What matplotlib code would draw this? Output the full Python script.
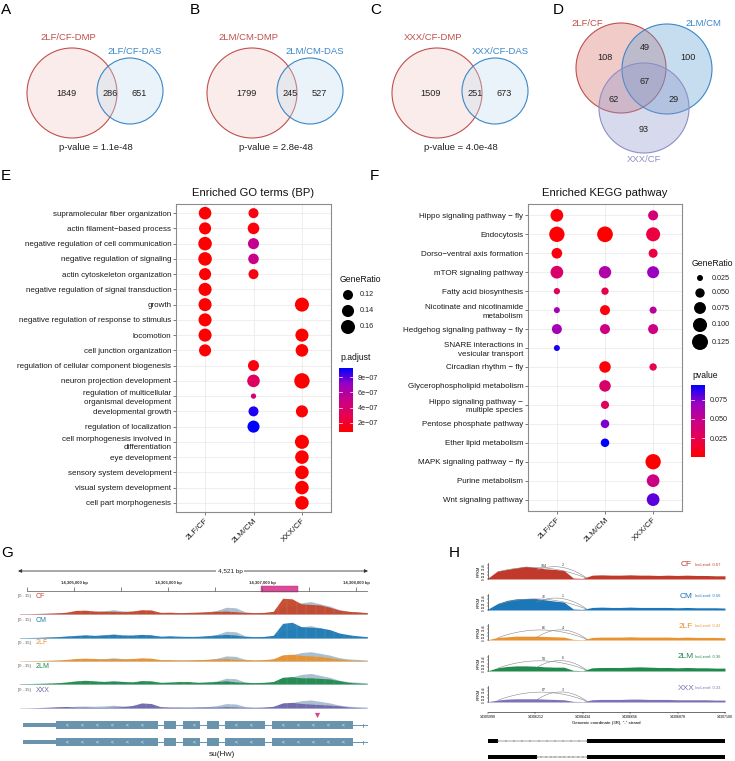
import numpy as np
import matplotlib.pyplot as plt
from matplotlib.patches import Circle, Rectangle
from matplotlib.colors import LinearSegmentedColormap, Normalize

plt.rcParams['font.family'] = ['Liberation Sans', 'DejaVu Sans']

# ---------------- data ----------------
venn_names = [('2LF/CF-DMP', '2LF/CF-DAS'), ('2LM/CM-DMP', '2LM/CM-DAS'), ('XXX/CF-DMP', 'XXX/CF-DAS')]
venn_counts = [(1849, 286, 651), (1799, 245, 527), (1509, 251, 673)]
venn_pvals = ['1.1e-48', '2.8e-48', '4.0e-48']

venn3_names = ['2LF/CF', '2LM/CM', 'XXX/CF']
# only1, only2, only3, 1&2, 1&3, 2&3, all
venn3_counts = [108, 100, 93, 49, 62, 29, 67]

groups = ['2LF/CF', '2LM/CM', 'XXX/CF']

go_terms = ['supramolecular fiber organization', 'actin filament\u2212based process',
            'negative regulation of cell communication', 'negative regulation of signaling',
            'actin cytoskeleton organization', 'negative regulation of signal transduction',
            'growth', 'negative regulation of response to stimulus', 'locomotion',
            'cell junction organization', 'regulation of cellular component biogenesis',
            'neuron projection development', 'regulation of multicellular\norganismal development',
            'developmental growth', 'regulation of localization',
            'cell morphogenesis involved in\ndifferentiation', 'eye development',
            'sensory system development', 'visual system development', 'cell part morphogenesis']
go_row = [0, 0, 1, 1, 2, 2, 3, 3, 4, 4, 5, 6, 6, 7, 8, 8, 9, 9, 10, 11, 11, 12, 13, 13, 14, 15, 16, 17, 18, 19]
go_col = [0, 1, 0, 1, 0, 1, 0, 1, 0, 1, 0, 0, 2, 0, 0, 2, 0, 2, 1, 1, 2, 1, 1, 2, 1, 2, 2, 2, 2, 2]
go_ratio = [0.145, 0.12, 0.14, 0.135, 0.155, 0.13, 0.155, 0.125, 0.14, 0.12, 0.15, 0.15, 0.16, 0.15,
            0.15, 0.15, 0.14, 0.145, 0.13, 0.145, 0.175, 0.08, 0.12, 0.14, 0.14, 0.16, 0.155, 0.155,
            0.155, 0.155]
go_padj = [0.9e-7, 1.2e-7, 0.85e-7, 1.1e-7, 0.82e-7, 5.2e-7, 0.82e-7, 5.0e-7, 0.9e-7, 1.3e-7, 0.85e-7,
           0.85e-7, 0.82e-7, 0.85e-7, 0.85e-7, 0.82e-7, 0.9e-7, 0.85e-7, 1.2e-7, 3.5e-7, 0.8e-7, 4.2e-7,
           8.8e-7, 1.0e-7, 9.2e-7, 0.82e-7, 0.82e-7, 0.82e-7, 0.82e-7, 0.82e-7]

kegg_terms = ['Hippo signaling pathway \u2212 fly', 'Endocytosis', 'Dorso\u2212ventral axis formation',
              'mTOR signaling pathway', 'Fatty acid biosynthesis', 'Nicotinate and nicotinamide\nmetabolism',
              'Hedgehog signaling pathway \u2212 fly', 'SNARE interactions in\nvesicular transport',
              'Circadian rhythm \u2212 fly', 'Glycerophospholipid metabolism',
              'Hippo signaling pathway \u2212\nmultiple species', 'Pentose phosphate pathway',
              'Ether lipid metabolism', 'MAPK signaling pathway \u2212 fly', 'Purine metabolism',
              'Wnt signaling pathway']
kegg_row = [0, 0, 1, 1, 1, 2, 2, 3, 3, 3, 4, 4, 5, 5, 5, 6, 6, 6, 7, 8, 8, 9, 10, 11, 12, 13, 14, 15]
kegg_col = [0, 2, 0, 1, 2, 0, 2, 0, 1, 2, 0, 1, 0, 1, 2, 0, 1, 2, 0, 1, 2, 1, 1, 1, 1, 2, 2, 2]
kegg_ratio = [0.084, 0.056, 0.116, 0.121, 0.099, 0.062, 0.047, 0.084, 0.08, 0.076, 0.027, 0.034,
              0.025, 0.056, 0.032, 0.056, 0.056, 0.056, 0.025, 0.071, 0.034, 0.071, 0.04, 0.043,
              0.043, 0.116, 0.084, 0.084]
kegg_p = [0.003, 0.04, 0.002, 0.001, 0.02, 0.005, 0.02, 0.035, 0.06, 0.07, 0.03, 0.025,
          0.065, 0.005, 0.055, 0.065, 0.045, 0.045, 0.09, 0.003, 0.025, 0.035, 0.03, 0.075,
          0.094, 0.0008, 0.045, 0.08]

go_size_breaks = [0.12, 0.14, 0.16]
kegg_size_breaks = [0.025, 0.05, 0.075, 0.1, 0.125]
go_p_ticks = [2e-7, 4e-7, 6e-7, 8e-7]
go_p_labels = ['2e\u221207', '4e\u221207', '6e\u221207', '8e\u221207']
kegg_p_ticks = [0.025, 0.05, 0.075]
kegg_p_labels = ['0.025', '0.050', '0.075']

# IGV tracks (panel G), coverage per 100 bp bin, range [0 - 15]
g_left, g_right = 14304404, 14308128
g_bins = np.arange(14304420, 14308200, 100)
track_names = ['CF', 'CM', '2LF', '2LM', 'XXX']
track_colors = ['#c4452b', '#1f7bb6', '#e8912e', '#1f8a4c', '#6f66aa']
cov_CF = [0.3, 0.3, 0.5, 0.7, 1.0, 1.6, 3.2, 3.4, 2.6, 2.4, 2.4, 2.0, 2.6, 3.8, 3.6, 1.4, 1.6, 1.2, 1.4,
          1.6, 2.0, 2.4, 2.6, 2.0, 1.4, 1.2, 1.4, 2.4, 14.0, 13.5, 9.0, 8.5, 8.0, 6.0, 3.5, 2.4, 1.8, 1.2]
cov_CM = [0.3, 0.4, 0.6, 0.9, 1.2, 1.8, 2.2, 2.8, 2.2, 2.8, 3.2, 2.6, 2.6, 3.2, 2.8, 1.6, 2.0, 1.6, 1.4,
          1.4, 2.0, 2.6, 3.2, 2.6, 1.4, 1.2, 1.4, 2.4, 13.0, 14.0, 10.0, 9.5, 9.0, 7.5, 4.5, 3.0, 1.8, 1.2]
cov_2LF = [0.2, 0.3, 0.4, 0.6, 0.8, 1.4, 2.2, 2.5, 2.2, 1.8, 2.2, 1.8, 2.2, 2.8, 2.5, 1.2, 1.2, 0.9, 0.9,
           1.2, 1.4, 1.8, 2.2, 1.5, 1.2, 0.9, 1.2, 2.0, 5.5, 6.0, 5.0, 4.5, 4.0, 3.0, 1.8, 1.0, 0.6, 0.4]
cov_2LM = [0.3, 0.4, 0.6, 0.8, 1.1, 1.8, 2.8, 3.3, 2.8, 2.2, 2.5, 2.2, 1.8, 3.0, 2.8, 1.5, 1.8, 2.2, 2.2,
           1.5, 1.8, 2.2, 2.8, 1.8, 1.5, 1.2, 1.5, 2.2, 6.0, 6.5, 5.5, 5.5, 5.0, 4.5, 3.0, 1.5, 0.8, 0.4]
cov_XXX = [0.1, 0.2, 0.4, 0.7, 1.1, 1.4, 0.8, 0.8, 0.5, 0.5, 0.8, 1.2, 2.2, 4.5, 4.0, 1.2, 0.8, 0.8, 0.6,
           0.8, 0.9, 0.8, 1.2, 0.9, 0.6, 0.5, 0.8, 1.5, 4.5, 5.0, 4.0, 3.5, 3.0, 2.5, 2.0, 0.9, 0.4, 0.2]
cov_merged = [0.2, 0.3, 0.4, 0.7, 1.0, 1.4, 2.4, 2.6, 2.4, 2.8, 3.8, 2.8, 2.4, 3.2, 2.6, 1.4, 1.2, 1.2, 1.4,
              1.6, 2.0, 3.2, 6.0, 5.5, 2.0, 1.2, 1.2, 2.0, 6.5, 7.5, 10.0, 11.0, 9.0, 7.0, 4.0, 2.4, 1.8, 1.2]
merged_scale = [1.0, 1.0, 0.75, 0.85, 0.65]

gene_utr = (14304457, 14304810)
gene_exons = [(14304810, 14305895), (14305957, 14306085), (14306160, 14306340), (14306415, 14306543),
              (14306606, 14307032), (14307106, 14307968)]
gene_end = 14308149
dmr_region = (14306990, 14307385)
mark_pos = 14307590

# sashimi (panel H)
h_lo, h_hi = 14305990, 14307100
h_ticks = [14305990, 14306212, 14306434, 14306656, 14306878, 14307100]
h_names = ['CF', 'CM', '2LF', '2LM', 'XXX']
h_colors = ['#c0392b', '#1c77b9', '#e8932f', '#1f8a4c', '#7b73b5']
h_inc = ['0.67', '0.56', '0.41', '0.36', '0.33']
h_junc = [(184, 2), (76, 1), (66, 4), (53, 6), (67, 3)]
h_cov = [
    [3, 25, 30, 35, 40, 36, 32, 30, 27, 3, 2, 12, 13, 12, 12, 13, 12, 12, 11, 12, 11, 12, 11, 11, 10, 10],
    [3, 20, 30, 35, 36, 36, 32, 28, 25, 3, 2, 8, 9, 8, 8, 9, 8, 8, 8, 8, 7, 8, 7, 7, 7, 6],
    [1, 8, 10, 12, 12, 12, 11, 10, 9, 2, 1, 8, 9, 9, 9, 10, 9, 9, 9, 9, 8, 9, 8, 8, 8, 7],
    [1, 10, 14, 16, 16, 15, 13, 12, 12, 2, 1, 10, 11, 11, 11, 12, 13, 12, 11, 11, 10, 11, 10, 10, 9, 9],
    [1, 6, 9, 10, 10, 10, 9, 8, 7, 2, 1, 7, 8, 8, 8, 9, 9, 8, 8, 8, 7, 7, 7, 7, 6, 6],
]
h_ex1_short, h_ex1_long, h_ex2 = 14306037, 14306219, 14306454

# ---------------- figure ----------------
W, H = 735, 761
fig = plt.figure(figsize=(W / 100, H / 100), dpi=100)


def px_axes(x0, y0, x1, y1):
    return fig.add_axes([x0 / W, 1 - y1 / H, (x1 - x0) / W, (y1 - y0) / H])


ov = px_axes(0, 0, W, H)
ov.set_xlim(0, W)
ov.set_ylim(H, 0)
ov.axis('off')

for letter, x, y in [('A', 1, 10), ('B', 190, 10), ('C', 370, 10), ('D', 553, 10),
                     ('E', 1, 176), ('F', 370, 176), ('G', 1, 553), ('H', 449, 553)]:
    ov.text(x, y, letter, fontsize=11, va='center', ha='left')

red_edge, blue_edge, purple_edge = '#c0504d', '#3a87c8', '#8c8fc6'

# ---- A, B, C: two-set Venns
for k, shift in enumerate([0, 180, 365]):
    ax = px_axes(shift, 20, shift + 185, 160)
    ax.set_xlim(shift, shift + 185)
    ax.set_ylim(160, 20)
    ax.axis('off')
    ax.add_patch(Circle((72 + shift, 93), 45, fc=(0.95, 0.79, 0.77, 0.35), ec=red_edge, lw=0.8))
    ax.add_patch(Circle((130 + shift, 91), 33, fc=(0.77, 0.87, 0.94, 0.35), ec=blue_edge, lw=0.8))
    a, ab, b = venn_counts[k]
    ax.text(66 + shift, 94, str(a), ha='center', va='center', fontsize=6.6, color='#222')
    ax.text(110 + shift, 94, str(ab), ha='center', va='center', fontsize=6.6, color='#222')
    ax.text(139 + shift, 94, str(b), ha='center', va='center', fontsize=6.6, color='#222')
    ax.text(68 + shift, 38, venn_names[k][0], ha='center', va='center', fontsize=6.8, color=red_edge)
    ax.text(135 + shift, 52, venn_names[k][1], ha='center', va='center', fontsize=6.8, color=blue_edge)
    ax.text(96 + shift, 148, 'p-value = ' + venn_pvals[k], ha='center', va='center', fontsize=6.8,
            color='#222')

# ---- D: three-set Venn
ax = px_axes(560, 15, 735, 170)
ax.set_xlim(560, 735)
ax.set_ylim(170, 15)
ax.axis('off')
ax.add_patch(Circle((621, 68), 45, fc=(0.83, 0.42, 0.39, 0.35), ec=red_edge, lw=0.8))
ax.add_patch(Circle((667, 69), 45, fc=(0.36, 0.62, 0.84, 0.35), ec=blue_edge, lw=0.8))
ax.add_patch(Circle((644, 108), 45, fc=(0.56, 0.58, 0.79, 0.35), ec=purple_edge, lw=0.8))
for (x, y), n in zip([(605, 57), (688, 57), (644, 130), (645, 47), (614, 100), (674, 100), (645, 82)],
                     venn3_counts):
    ax.text(x, y, str(n), ha='center', va='center', fontsize=6.6, color='#222')
ax.text(587, 24, venn3_names[0], ha='center', va='center', fontsize=6.8, color=red_edge)
ax.text(703, 24, venn3_names[1], ha='center', va='center', fontsize=6.8, color=blue_edge)
ax.text(644, 160, venn3_names[2], ha='center', va='center', fontsize=6.8, color=purple_edge)

# ---- E, F: dot plots
cmap = LinearSegmentedColormap.from_list('rb', ['#ff0000', '#e80050', '#c90088', '#9a00c3', '#0000ff'])


def go_diam(v):
    return 74.8 * np.sqrt(v) - 15.9


def kegg_diam(v):
    return 51.0 * np.sqrt(v) - 2.06


def dotplot(box, terms, rows, cols, ratio, pv, diam, title, title_x):
    ax = px_axes(*box)
    n = len(terms)
    norm = Normalize(min(pv), max(pv))
    ys = [n - 1 - r for r in rows]
    sizes = [(diam(v) * 0.72) ** 2 for v in ratio]
    ax.scatter(cols, ys, s=sizes, c=pv, cmap=cmap, norm=norm, linewidths=0, zorder=3)
    ax.set_xlim(-0.6, 2.6)
    ax.set_ylim(-0.6, n - 0.4)
    ax.set_xticks(range(3))
    ax.set_xticklabels(groups, rotation=45, ha='right', va='top', rotation_mode='anchor', fontsize=6)
    ax.set_yticks(range(n))
    ax.set_yticklabels(terms[::-1], fontsize=5.8, linespacing=1.3)
    ax.grid(color='#ebebeb', lw=0.6)
    ax.set_axisbelow(True)
    for sp in ax.spines.values():
        sp.set_color('#8c8c8c')
        sp.set_linewidth(0.8)
    ax.tick_params(length=2, width=0.5, color='#444', labelcolor='#1a1a1a', pad=1.5)
    ov.text(title_x, 193, title, ha='center', va='center', fontsize=8.1, color='#111')
    return norm


def size_legend(x, ys, breaks, diam, title_y, fmt):
    ov.text(x - 8, title_y, 'GeneRatio', fontsize=6.2, va='center', ha='left', color='#111')
    ov.scatter([x] * len(breaks), ys, s=[(diam(v) * 0.72) ** 2 for v in breaks], color='black', lw=0)
    for y, v in zip(ys, breaks):
        ov.text(x + 12, y, fmt.format(v), fontsize=5.2, va='center', ha='left', color='#222')


def colorbar(box, norm, ticks, labels, title):
    ax = px_axes(*box)
    grad = np.linspace(norm.vmin, norm.vmax, 256)[:, None]
    ax.imshow(grad, aspect='auto', cmap=cmap, norm=norm, origin='lower',
              extent=[0, 1, norm.vmin, norm.vmax])
    ax.set_xticks([])
    ax.yaxis.tick_right()
    ax.set_yticks(ticks)
    ax.set_yticklabels(labels, fontsize=5.2, color='#222')
    ax.tick_params(axis='y', length=0, pad=3.5)
    for t in ticks:
        ax.plot([0, 0.2], [t, t], color='white', lw=0.5)
        ax.plot([0.8, 1], [t, t], color='white', lw=0.5)
    for sp in ax.spines.values():
        sp.set_visible(False)
    ov.text(box[0] + 1, box[1] - 10, title, fontsize=6.2, va='center', ha='left', color='#111')


go_norm = dotplot((176, 204, 331, 512), go_terms, go_row, go_col, go_ratio, go_padj, go_diam,
                  'Enriched GO terms (BP)', 253)
size_legend(348, [295, 311, 327], go_size_breaks, go_diam, 279, '{:.2f}')
colorbar((339, 368, 353, 432), go_norm, go_p_ticks, go_p_labels, 'p.adjust')

kegg_norm = dotplot((528, 204, 682, 511), kegg_terms, kegg_row, kegg_col, kegg_ratio, kegg_p, kegg_diam,
                    'Enriched KEGG pathway', 605)
size_legend(700, [278, 293, 308, 325, 342], kegg_size_breaks, kegg_diam, 263, '{:.3f}')
colorbar((691, 385, 705, 457), kegg_norm, kegg_p_ticks, kegg_p_labels, 'pvalue')

# ---- G: IGV view
G_X0, G_X1 = 18, 368
axr = px_axes(G_X0, 563, G_X1, 596)
axr.set_xlim(g_left, g_right)
axr.set_ylim(596, 563)
axr.axis('off')
axr.annotate('', xy=(g_left, 571), xytext=(g_right, 571),
             arrowprops=dict(arrowstyle='<|-|>', color='#333', lw=0.6, mutation_scale=5,
                             shrinkA=0, shrinkB=0))
axr.text(14306660, 571, f'{4521:,} bp', ha='center', va='center', fontsize=4.6, color='#222',
         bbox=dict(fc='white', ec='none', pad=1.2))
ruler_ticks = np.arange(14304500, g_right, 500)
axr.plot([ruler_ticks[0], g_right], [591, 591], color='#555', lw=0.5)
axr.vlines(ruler_ticks, 587, 591, color='#555', lw=0.5)
for t in ruler_ticks:
    if t % 1000 == 0:
        axr.text(t, 583, f'{t:,} bp', ha='center', va='center', fontsize=3.1, color='#333',
                 fontweight='bold')
axr.add_patch(Rectangle((dmr_region[0], 586.5), dmr_region[1] - dmr_region[0], 5.5, fc='#e0489c',
                        ec='#b03070', lw=0.3))

track_base = [614, 638, 661, 684, 708]
tracks = [cov_CF, cov_CM, cov_2LF, cov_2LM, cov_XXX]
for name, col, base, cov, sc in zip(track_names, track_colors, track_base, tracks, merged_scale):
    ax = px_axes(G_X0, base - 18, G_X1, base)
    ax.set_xlim(g_left, g_right)
    ax.set_ylim(0, 16)
    ax.axis('off')
    ax.fill_between(g_bins, np.array(cov_merged) * sc, color='#a9bfd0', lw=0)
    ax.fill_between(g_bins, cov, color=col, lw=0, alpha=0.95)
    ax.vlines(g_bins + 50, 0, 16, color='white', lw=0.25, alpha=0.3)
    ax.axhline(0, color=col, lw=0.5)
    ax.text(0.0, 1.0, '[0 - 15]', transform=ax.transAxes, fontsize=3, color='#555', va='center')
    ax.text(0.05, 1.0, name, transform=ax.transAxes, fontsize=5, color=col, va='center')

axg = px_axes(G_X0, 709, G_X1, 761)
axg.set_xlim(g_left, g_right)
axg.set_ylim(761, 709)
axg.axis('off')
gene_col = '#6a93ad'
for gy in [725, 742]:
    axg.plot([gene_utr[0], gene_end], [gy, gy], color=gene_col, lw=0.7)
    axg.add_patch(Rectangle((gene_utr[0], gy - 2.3), gene_utr[1] - gene_utr[0], 4.6, fc=gene_col, lw=0))
    for s, e in gene_exons:
        axg.add_patch(Rectangle((s, gy - 4), e - s, 8, fc=gene_col, lw=0))
        for c in np.arange(s + 120, e - 40, 160):
            axg.text(c, gy, '<', color='white', fontsize=3.5, ha='center', va='center')
    axg.plot([gene_end - 75, gene_end - 75], [gy - 1.5, gy + 1.5], color=gene_col, lw=0.6)
axg.scatter([mark_pos], [715], marker='v', s=14, color='#e0457f', lw=0)
axg.text(14306575, 755, 'su(Hw)', ha='center', va='center', fontsize=6, color='#222')

# ---- H: sashimi plot
H_X0, H_X1 = 488, 725
h_x = np.linspace(h_lo, h_hi, len(h_cov[0]))
h_base = [579, 610, 640, 671, 702]
for name, col, base, cov, inc, junc in zip(h_names, h_colors, h_base, h_cov, h_inc, h_junc):
    ax = px_axes(H_X0, base - 16, H_X1, base)
    ax.set_xlim(h_lo, h_hi)
    ax.set_ylim(0, 50)
    ax.fill_between(h_x, cov, color=col, lw=0)
    for sp in ['top', 'right', 'bottom']:
        ax.spines[sp].set_visible(False)
    ax.spines['left'].set_linewidth(0.4)
    ax.set_xticks([])
    ax.set_yticks([0, 11, 22, 33, 44])
    ax.set_yticklabels(['0', '11', '22', '33', '44'], fontsize=2.2, rotation=90, va='center')
    ax.tick_params(axis='y', length=1, width=0.3, pad=0.5)
    ax.set_ylabel('RPKM', fontsize=2.8, labelpad=1)
    ax.patch.set_alpha(0)
    # junction arcs
    for (x0, x1), cnt in zip([(h_ex1_short, h_ex2), (h_ex1_long, h_ex2)], junc):
        xs = np.linspace(0, 1, 40)
        y0 = cov[1] * 0.9 if x0 == h_ex1_short else cov[4] * 0.7
        bx = (1 - xs) ** 2 * x0 + 2 * xs * (1 - xs) * (x0 + x1) / 2 + xs ** 2 * x1
        by = (1 - xs) ** 2 * y0 + 2 * xs * (1 - xs) * 58 + xs ** 2 * 2
        ax.plot(bx, by, color='#888', lw=0.4, clip_on=False)
        ax.text(bx[20], by[20] + 1, str(cnt), fontsize=2.6, ha='center', va='bottom', color='#333',
                clip_on=False)
    ov.text(686, base - 14, name, fontsize=6, color=col, ha='center', va='center')
    ov.text(695, base - 14, 'IncLevel: ' + inc, fontsize=3, color=col, ha='left', va='center')

axx = px_axes(H_X0, 700, H_X1, 712)
axx.set_xlim(h_lo, h_hi)
for sp in ['top', 'right', 'left']:
    axx.spines[sp].set_visible(False)
axx.spines['bottom'].set_linewidth(0.4)
axx.patch.set_alpha(0)
axx.set_yticks([])
axx.set_xticks(h_ticks)
axx.set_xticklabels([str(t) for t in h_ticks], fontsize=2.6)
axx.tick_params(axis='x', length=1.2, width=0.3, pad=1)
axx.set_xlabel('Genomic coordinate (3R), "-" strand', fontsize=3.2, labelpad=1.5)

axh = px_axes(H_X0, 733, H_X1, 761)
axh.set_xlim(h_lo, h_hi)
axh.set_ylim(761, 733)
axh.axis('off')
for gy, ex1 in [(741, h_ex1_short), (757, h_ex1_long)]:
    axh.add_patch(Rectangle((h_lo, gy - 2.2), ex1 - h_lo, 4.4, fc='black', lw=0))
    axh.add_patch(Rectangle((h_ex2, gy - 2.2), h_hi - h_ex2, 4.4, fc='black', lw=0))
    xs = np.linspace(ex1, h_ex2, 12)
    axh.plot(xs, [gy] * len(xs), color='#444', lw=0.35, marker='|', ms=1.2, mew=0.3)

fig.savefig('out.png', dpi=100)
